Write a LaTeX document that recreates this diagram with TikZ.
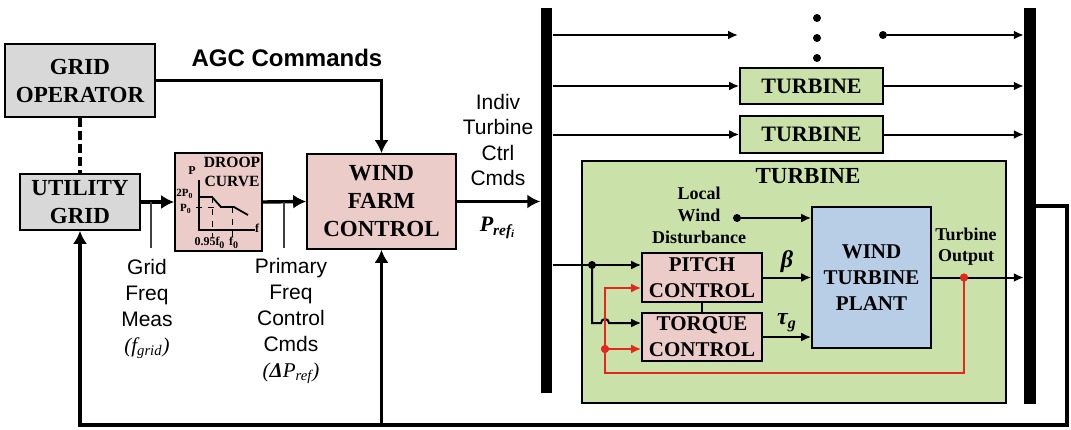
\documentclass[tikz,border=0pt]{standalone}
\usepackage{fontspec}
\setmainfont{Liberation Serif}
\setsansfont{Liberation Sans}
\usetikzlibrary{positioning, arrows.meta, calc}
\definecolor{box-gray}{RGB}{216,216,216}
\definecolor{ctrl-pink}{RGB}{236,204,200}
\definecolor{turb-green}{RGB}{202,226,170}
\definecolor{plant-blue}{RGB}{184,206,230}
\definecolor{fb-red}{RGB}{228,38,28}

\begin{document}
\begin{tikzpicture}[x=0.5pt, y=-0.5pt,
    box/.style={draw, line width=0.8pt, inner sep=0pt, align=center, font=\bfseries\fontsize{11.5}{14}\selectfont},
    gridbox/.style={box, fill=box-gray},
    ctrlbox/.style={box, fill=ctrl-pink},
    turbbox/.style={box, fill=turb-green},
    plantbox/.style={box, fill=plant-blue},
    busbar/.style={fill=black, inner sep=0pt, minimum width=5.8pt},
    arrow/.style={-{Latex[length=6.5pt,width=7pt]}, line width=1.7pt},
    thinarrow/.style={-{Latex[length=5pt,width=4.5pt]}, line width=1pt},
    redarrow/.style={thinarrow, draw=fb-red, line width=1.1pt},
    tap/.style={line width=0.7pt, draw=black!75},
    lbl/.style={font=\sffamily\fontsize{10.5}{13}\selectfont, align=center},
    smalllbl/.style={font=\bfseries\fontsize{9}{11}\selectfont, align=center},
    tiny/.style={font=\bfseries\fontsize{6}{7}\selectfont, inner sep=0pt},
    dot/.style={circle, fill, inner sep=0pt, minimum size=4pt}]
    \useasboundingbox (0,0) rectangle (1071,429);

    % grid side
    \node[gridbox, minimum width=75pt, minimum height=36.5pt] (gop) at (80,80.5) {GRID\\OPERATOR};
    \node[gridbox, minimum width=60pt, minimum height=28pt] (ugrid) at (80,202) {UTILITY\\GRID};
    \node[ctrlbox, minimum width=43.5pt, minimum height=49pt] (droop) at (218.5,202) {};
    \node[ctrlbox, minimum width=74.5pt, minimum height=47.5pt] (wfc) at (381.5,201.5) {WIND\\FARM\\CONTROL};

    % droop curve inside the box
    \node[font=\bfseries\fontsize{7.8}{9.5}\selectfont, align=center, inner sep=0pt] (droopttl) at (232,171.5) {DROOP\\CURVE};
    \draw[line width=0.6pt] (199,180) -- (199,230) -- (255,230);
    \draw[line width=0.9pt] (200,197) -- (212,197) -- (221,207) -- (234,207) -- (248,215);
    \draw[line width=0.4pt, dashed] (196,207.5) -- (221,207.5);
    \draw[line width=0.4pt, dashed] (212,197) -- (212,237);
    \draw[line width=0.4pt, dashed] (232,207) -- (232,237);
    \node[tiny] (axp) at (192,171) {P};
    \node[tiny] (axf) at (257,228) {f};
    \node[tiny, font=\bfseries\fontsize{5.5}{6}\selectfont] (tp2) at (185,194) {2P\textsubscript{0}};
    \node[tiny, font=\bfseries\fontsize{5.5}{6}\selectfont] (tp1) at (186,209) {P\textsubscript{0}};
    \node[tiny] (tf1) at (210,243) {0.95f\textsubscript{0}};
    \node[tiny] (tf0) at (234,243) {f\textsubscript{0}};

    % labels on the left
    \node[font=\sffamily\bfseries\fontsize{12}{14}\selectfont] (agc) at (287,58) {AGC Commands};
    \node[lbl] (gfm) at (147,309) {Grid\\Freq\\Meas\\{\rmfamily\itshape(f\textsubscript{grid})}};
    \node[lbl] (pfc) at (291,321) {Primary\\Freq\\Control\\Cmds\\{\rmfamily\itshape(\textbf{Δ}P\textsubscript{ref})}};
    \node[lbl, font=\sffamily\fontsize{10.5}{12.8}\selectfont] (indiv) at (498,140) {Indiv\\Turbine\\Ctrl\\Cmds};
    \node[font=\rmfamily\bfseries\itshape\fontsize{11}{12}\selectfont] (pref) at (498,228) {P\textsubscript{ref\textsubscript{i}}};

    % buses
    \node[busbar, minimum height=192.5pt] (lbus) at (546.5,200.5) {};
    \node[busbar, minimum height=198pt] (rbus) at (1030,206) {};

    % turbines
    \node[turbbox, font=\bfseries\fontsize{11}{13}\selectfont, minimum width=71.5pt, minimum height=18pt] (tb1) at (811.5,86) {TURBINE};
    \node[turbbox, font=\bfseries\fontsize{11}{13}\selectfont, minimum width=71.5pt, minimum height=18.5pt] (tb2) at (811.5,134.5) {TURBINE};
    \node[turbbox, minimum width=212pt, minimum height=121pt] (tbig) at (794,282) {};
    \node[font=\bfseries\fontsize{11.5}{13}\selectfont] (tbigttl) at (808,176) {TURBINE};
    \foreach \y [count=\i] in {18,38,58}
        \node[dot] (vd\i) at (817,\y) {};

    % inside the turbine
    \node[ctrlbox, font=\bfseries\fontsize{10.5}{13}\selectfont, minimum width=60pt, minimum height=24.5pt] (pitch) at (702,277.5) {PITCH\\CONTROL};
    \node[ctrlbox, font=\bfseries\fontsize{10.5}{13}\selectfont, minimum width=60pt, minimum height=24pt] (torque) at (702,337) {TORQUE\\CONTROL};
    \node[plantbox, font=\bfseries\fontsize{10.5}{13}\selectfont, minimum width=59.5pt, minimum height=70.5pt] (plant) at (871.5,277.5) {WIND\\TURBINE\\PLANT};
    \node[smalllbl] (lwd) at (699,215) {Local\\Wind\\Disturbance};
    \node[smalllbl, font=\bfseries\fontsize{9}{10.5}\selectfont] (tout) at (966,247) {Turbine\\Output};
    \node[dot] (wdot) at (737,218) {};
    \node[dot] (jdot) at (592,265) {};
    \node[dot, fill=fb-red] (odot) at (964,277.5) {};
    \node[dot, fill=fb-red] (rdot) at (605,349) {};
    \coordinate (rfb) at (605,373);
    \coordinate (tqin) at ($(torque.west)+(0,-14)$);
    \coordinate (rpin) at ($(pitch.west)+(0,10.5)$);

    % left side arrows
    \draw[arrow] (gop.east) -| (wfc.north);
    \draw[line width=2pt, dash pattern=on 4.5pt off 2pt] (gop.south) -- (ugrid.north);
    \draw[arrow] (ugrid.east) -- (droop.west);
    \draw[arrow] (droop.east) -- (wfc.west);
    \draw[arrow] (wfc.east) -- (lbus.west |- wfc.east);
    \coordinate (tap1) at (151,202);
    \coordinate (tap2) at (284,202);
    \draw[tap] (tap1) -- (tap1 |- 0,248);
    \draw[tap] (tap2) -- (tap2 |- 0,248);

    % feedback loop along the bottom
    \coordinate (cornerR) at (1067,425);
    \draw[arrow] (rbus.east) -| (cornerR) -| (ugrid.south);
    \draw[arrow] (wfc.south |- cornerR) -- (wfc.south);

    % rows to the buses
    \coordinate (r1end) at (738,35);
    \node[dot] (r1dot) at (883,35) {};
    \draw[thinarrow] (lbus.east |- r1end) -- (r1end);
    \draw[thinarrow] (r1dot) -- (rbus.west |- r1dot);
    \draw[thinarrow] (lbus.east |- tb1.west) -- (tb1.west);
    \draw[thinarrow] (tb1.east) -- (rbus.west |- tb1.east);
    \draw[thinarrow] (lbus.east |- tb2.west) -- (tb2.west);
    \draw[thinarrow] (tb2.east) -- (rbus.west |- tb2.east);

    % turbine internals
    \draw[thinarrow] (lbus.east |- jdot) -- (pitch.west |- jdot);
    \draw[thinarrow] (jdot.center) |- ($(rfb |- tqin)+(-4,0)$) arc[start angle=180, end angle=360, radius=4] -- (tqin);
    \draw[line width=1pt] (pitch.south) -- (torque.north);
    \draw[thinarrow] (pitch.east) -- node[above, font=\rmfamily\bfseries\itshape\fontsize{12}{12}\selectfont, inner sep=2pt] (beta) {β} (plant.west |- pitch.east);
    \draw[thinarrow] (torque.east) -- node[above, font=\rmfamily\bfseries\itshape\fontsize{12}{12}\selectfont, inner sep=2pt] (taug) {τ\textsubscript{g}} (plant.west |- torque.east);
    \draw[thinarrow] (wdot) -- (plant.west |- wdot);
    \draw[thinarrow] (plant.east) -- (rbus.west |- plant.east);
    \draw[redarrow] (odot.center) |- (rfb) |- (rpin);
    \draw[redarrow] (rdot.center) -- (torque.west |- rdot);
    \node[dot, fill=fb-red] at (odot) {};
    \node[dot, fill=fb-red] at (rdot) {};
\end{tikzpicture}
\end{document}
